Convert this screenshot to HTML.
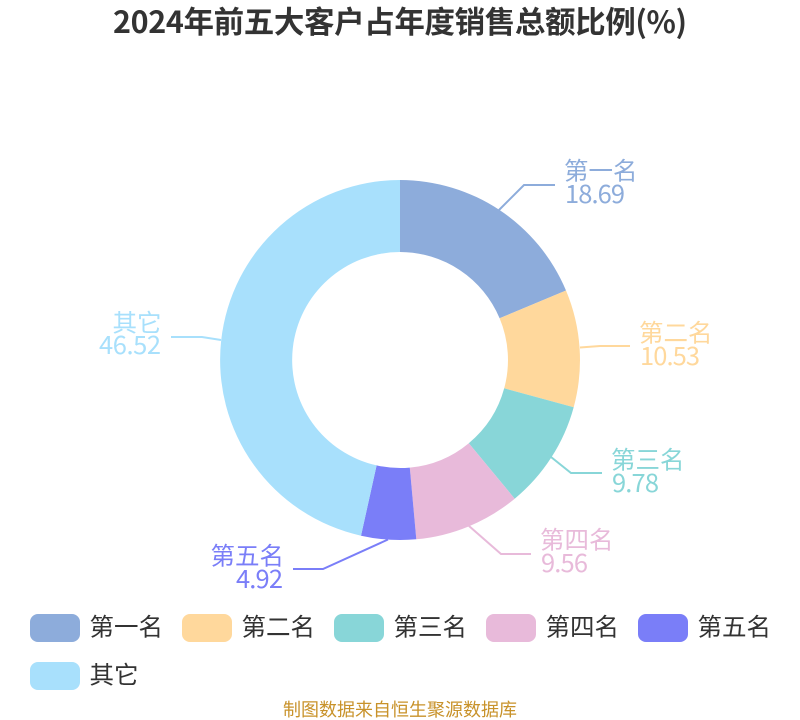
<!DOCTYPE html>
<html><head><meta charset="utf-8"><style>
html,body{margin:0;padding:0;background:#fff}
svg{display:block}
text{font-family:"Noto Sans CJK SC","Liberation Sans",sans-serif}
</style></head><body>
<svg width="800" height="720" viewBox="0 0 800 720" xmlns="http://www.w3.org/2000/svg">
<text x="113" y="33" textLength="574" lengthAdjust="spacing" font-size="30.5" font-weight="700" fill="#333">2024年前五大客户占年度销售总额比例(%)</text>
<path d="M400 180A180 180 0 0 1 566 290.5L499.6 318.3A108 108 0 0 0 400 252Z" fill="#8dacdb"/>
<path d="M566 290.5A180 180 0 0 1 573.7 407.2L504.2 388.3A108 108 0 0 0 499.6 318.3Z" fill="#ffd89c"/>
<path d="M573.7 407.2A180 180 0 0 1 514.7 498.7L468.8 443.2A108 108 0 0 0 504.2 388.3Z" fill="#88d6d8"/>
<path d="M514.7 498.7A180 180 0 0 1 416.3 539.3L409.8 467.6A108 108 0 0 0 468.8 443.2Z" fill="#e8bada"/>
<path d="M416.3 539.3A180 180 0 0 1 361 535.7L376.6 465.4A108 108 0 0 0 409.8 467.6Z" fill="#7a7ef8"/>
<path d="M361 535.7A180 180 0 0 1 400 180L400 252A108 108 0 0 0 376.6 465.4Z" fill="#a8e0fc"/>
<g fill="none" stroke-width="2">
<path d="M499 210L524 185H555" stroke="#8dacdb"/>
<path d="M580 347.500L600 346H630" stroke="#ffd89c"/>
<path d="M551 457L571 473H602" stroke="#88d6d8"/>
<path d="M469 526L501 554H531" stroke="#e8bada"/>
<path d="M388 539.500L323 569H293" stroke="#7a7ef8"/>
<path d="M221 340L202 337H171" stroke="#a8e0fc"/>
</g>
<g font-size="24.500">
<g fill="#8dacdb"><text x="564" y="179.500">第一名</text><text x="565" y="203" textLength="60" font-size="25.500">18.69</text></g>
<g fill="#ffd89c"><text x="639" y="341.500">第二名</text><text x="640" y="365" textLength="60" font-size="25.500">10.53</text></g>
<g fill="#88d6d8"><text x="611" y="468.500">第三名</text><text x="612" y="492" textLength="47" font-size="25.500">9.78</text></g>
<g fill="#e8bada"><text x="540" y="548.500">第四名</text><text x="541" y="572" textLength="47" font-size="25.500">9.56</text></g>
<g fill="#7a7ef8"><text x="210.500" y="564.500">第五名</text><text x="236" y="588" textLength="47" font-size="25.500">4.92</text></g>
<g fill="#a8e0fc"><text x="112.500" y="331.500">其它</text><text x="99" y="354" textLength="62" font-size="25.500">46.52</text></g>
</g>
<rect x="30" y="614" width="50" height="28" rx="8" fill="#8dacdb"/>
<rect x="182" y="614" width="50" height="28" rx="8" fill="#ffd89c"/>
<rect x="334" y="614" width="50" height="28" rx="8" fill="#88d6d8"/>
<rect x="486" y="614" width="50" height="28" rx="8" fill="#e8bada"/>
<rect x="638" y="614" width="50" height="28" rx="8" fill="#7a7ef8"/>
<rect x="30" y="662" width="50" height="28" rx="8" fill="#a8e0fc"/>
<g font-size="24.500" fill="#333">
<text x="89.500" y="635.500">第一名</text>
<text x="241.500" y="635.500">第二名</text>
<text x="393.500" y="635.500">第三名</text>
<text x="545.500" y="635.500">第四名</text>
<text x="697.500" y="635.500">第五名</text>
<text x="89.500" y="683.500">其它</text>
</g>
<text x="400" y="716" text-anchor="middle" font-size="18" fill="#c8922a">制图数据来自恒生聚源数据库</text>
</svg>
</body></html>
